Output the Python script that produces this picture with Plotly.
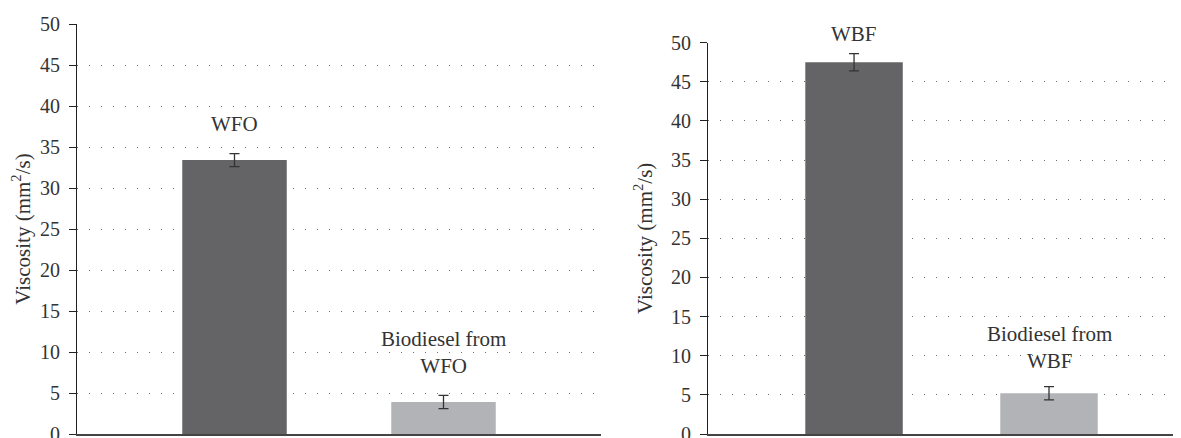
import plotly.graph_objects as go

# Data
left_categories = ["WFO", "Biodiesel from WFO"]
left_values = [33.4, 3.9]
left_errors = [0.8, 0.8]
left_labels = ["WFO", "Biodiesel from<br>WFO"]

right_categories = ["WBF", "Biodiesel from WBF"]
right_values = [47.5, 5.2]
right_errors = [1.1, 0.85]
right_labels = ["WBF", "Biodiesel from<br>WBF"]

y_ticks = [0, 5, 10, 15, 20, 25, 30, 35, 40, 45, 50]

bar_colors = ["#646466", "#b2b3b6"]
FONT = "Liberation Serif"
W, H = 1181, 438

fig = go.Figure()

positions = [0, 1]
for (vals, errs, xa, ya) in [(left_values, left_errors, "x", "y"),
                             (right_values, right_errors, "x2", "y2")]:
    fig.add_trace(go.Bar(
        x=positions, y=vals, width=0.5,
        marker=dict(color=bar_colors, line=dict(width=0)),
        error_y=dict(type="data", array=errs, visible=True,
                     color="#333333", thickness=1.3, width=5),
        xaxis=xa, yaxis=ya, showlegend=False,
    ))

grid = dict(showgrid=True, gridcolor="#6e6e6e", gridwidth=1, griddash="1px,11px")
yax_common = dict(range=[0, 50], tickvals=y_ticks, ticks="outside", ticklen=7,
                  tickcolor="#222", showline=True, linecolor="#222", linewidth=1.2,
                  tickfont=dict(family=FONT, size=20, color="#333"),
                  ticklabelstandoff=5, automargin=False,
                  zeroline=False, fixedrange=True, **grid)
xax_common = dict(showticklabels=False, ticks="", showgrid=False, zeroline=False,
                  automargin=False, showline=True, linecolor="#444", linewidth=1.6)

title_font = dict(family=FONT, size=21, color="#333")

fig.update_layout(
    template="none",
    width=W, height=H,
    margin=dict(l=0, r=0, t=0, b=0, pad=0),
    paper_bgcolor="white", plot_bgcolor="white",
    xaxis=dict(domain=[69 / W, 593 / W], range=[-0.7536, 1.7536], anchor="y", **xax_common),
    xaxis2=dict(domain=[700 / W, 1.0], range=[-0.749, 1.718], anchor="y2", **xax_common),
    yaxis=dict(domain=[12 / H, 422 / H], anchor="x",
               title=dict(text="Viscosity (mm<sup>2</sup>/s)", standoff=12, font=title_font),
               **yax_common),
    yaxis2=dict(domain=[12 / H, 403.3 / H], anchor="x2",
                title=dict(text="Viscosity (mm<sup>2</sup>/s)", standoff=12, font=title_font),
                **yax_common),
)

# label positions in data units (labels above the axis top are clamped + shifted)
label_y_left = [37.8, 9.9]
label_y_right = [51.1, 11.0]
px_per_unit = {"y": 410 / 50, "y2": 391.3 / 50}
for labels, ys, xr, yr in [(left_labels, label_y_left, "x", "y"),
                           (right_labels, label_y_right, "x2", "y2")]:
    for p, lab, yy in zip(positions, labels, ys):
        y_in = min(yy, 50)
        shift = (yy - y_in) * px_per_unit[yr]
        fig.add_annotation(x=p, y=y_in, xref=xr, yref=yr, yshift=shift,
                           text=lab, showarrow=False,
                           font=dict(family=FONT, size=21, color="#333"),
                           xanchor="center", yanchor="middle")

fig.write_html("out.html")
